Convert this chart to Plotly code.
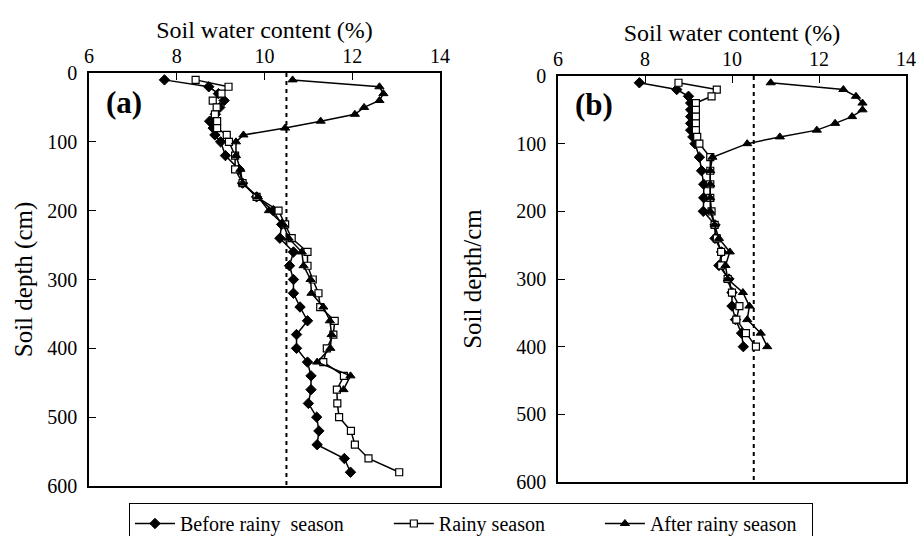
import plotly.graph_objects as go

# ---------------- data ----------------
depth_a = [10, 20, 30, 40, 50, 60, 70, 80, 90, 100, 120, 140, 160, 180, 200, 220, 240,
           260, 280, 300, 320, 340, 360, 380, 400, 420, 440, 460, 480, 500, 520, 540, 560, 580]
before_a = [7.72, 8.73, 8.95, 9.08, 8.98, 8.88, 8.75, 8.83, 8.87, 9.0, 9.11, 9.42, 9.5, 9.82,
            10.2, 10.39, 10.35, 10.66, 10.57, 10.66, 10.66, 10.81, 10.98, 10.73, 10.73, 10.98,
            11.06, 11.06, 11.0, 11.19, 11.24, 11.2, 11.82, 11.96]
rainy_a = [8.43, 9.18, 9.02, 8.82, 8.91, 8.87, 8.92, 8.92, 9.14, 9.19, 9.33, 9.33, 9.5, 9.82,
           10.32, 10.47, 10.62, 10.98, 10.98, 11.1, 11.23, 11.27, 11.6, 11.57, 11.42, 11.34,
           11.81, 11.65, 11.66, 11.70, 11.97, 12.06, 12.37, 13.07]
depth_a_after = depth_a[:28]
after_a = [10.64, 12.62, 12.71, 12.62, 12.27, 12.06, 11.28, 10.47, 9.52, 9.35, 9.35, 9.45, 9.5,
           9.85, 10.1, 10.43, 10.55, 10.85, 10.89, 11.05, 11.07, 11.34, 11.49, 11.53, 11.5, 11.2,
           11.96, 11.8]

depth_b = [10, 20, 30, 40, 50, 60, 70, 80, 90, 100, 120, 140, 160, 180, 200, 220, 240, 260,
           280, 300, 320, 340, 360, 380, 400]
before_b = [7.87, 8.73, 9.0, 9.05, 9.05, 9.05, 9.05, 9.05, 9.1, 9.15, 9.25, 9.3, 9.35, 9.35,
            9.34, 9.61, 9.61, 9.76, 9.70, 9.93, 10.0, 10.0, 10.08, 10.22, 10.26]
rainy_b = [8.77, 9.65, 9.53, 9.17, 9.17, 9.17, 9.17, 9.17, 9.2, 9.25, 9.5, 9.5, 9.5, 9.5,
           9.53, 9.6, 9.65, 9.75, 9.75, 9.9, 10.0, 10.17, 10.1, 10.32, 10.55]
after_b = [10.89, 12.56, 12.85, 13.0, 13.0, 12.76, 12.37, 11.95, 11.1, 10.35, 9.55, 9.5, 9.5,
           9.5, 9.5, 9.6, 9.7, 9.95, 9.85, 9.9, 10.25, 10.4, 10.35, 10.66, 10.81]

threshold = 10.5
depth_range = [0, 600]
x_ticks = [6, 8, 10, 12, 14]
y_ticks = [0, 100, 200, 300, 400, 500, 600]

NB = "\u00a0"
series_names = ["Before rainy" + NB + " season" + NB * 8,
                "Rainy season" + NB * 10,
                "After rainy season" + NB * 2]

# ---------------- figure ----------------
FONT = "Liberation Serif"
W, H = 917, 536

fig = go.Figure()

line_style = dict(color="black", width=1.5)
styles = [
    dict(symbol="diamond", size=8, color="black", line=dict(color="black", width=1)),
    dict(symbol="square", size=7, color="white", line=dict(color="black", width=1.2)),
    dict(symbol="triangle-up", size=8, color="black", line=dict(color="black", width=1)),
]

panels = [
    ("x", "y", [(depth_a, before_a), (depth_a, rainy_a), (depth_a_after, after_a)]),
    ("x2", "y2", [(depth_b, before_b), (depth_b, rainy_b), (depth_b, after_b)]),
]

for pi, (xa, ya, data) in enumerate(panels):
    fig.add_trace(go.Scatter(x=[threshold, threshold], y=depth_range, mode="lines",
                             line=dict(color="black", width=2, dash="4px,4px"),
                             xaxis=xa, yaxis=ya, showlegend=False, hoverinfo="skip"))
    for si, (d, v) in enumerate(data):
        fig.add_trace(go.Scatter(x=v, y=d, mode="lines+markers", name=series_names[si],
                                 line=line_style, marker=styles[si],
                                 xaxis=xa, yaxis=ya, showlegend=(pi == 0)))

def xaxis_cfg(domain, anchor):
    return dict(domain=domain, anchor=anchor, side="top", range=[6, 14], tickvals=x_ticks,
                ticks="inside", ticklen=7, tickwidth=1.2, tickcolor="black",
                showline=True, mirror=True, linecolor="black", linewidth=1.5,
                showgrid=False, zeroline=False, ticklabelstandoff=0,
                tickfont=dict(family=FONT, size=20, color="black"),
                title=dict(text="Soil water content (%)", standoff=0,
                           font=dict(family=FONT, size=24, color="black")))

def yaxis_cfg(domain, anchor, title, standoff):
    return dict(domain=domain, anchor=anchor, range=[600, 0], tickvals=y_ticks,
                ticks="inside", ticklen=7, tickwidth=1.2, tickcolor="black",
                showline=True, mirror=True, linecolor="black", linewidth=1.5,
                showgrid=False, zeroline=False, ticklabelstandoff=6,
                tickfont=dict(family=FONT, size=20, color="black"),
                title=dict(text=title, standoff=standoff,
                           font=dict(family=FONT, size=25, color="black")))

fig.update_layout(
    width=W, height=H,
    margin=dict(l=0, r=0, t=0, b=0, autoexpand=False),
    paper_bgcolor="white", plot_bgcolor="white",
    font=dict(family=FONT, color="black"),
    xaxis=xaxis_cfg([89 / W, 440 / W], "y"),
    yaxis=yaxis_cfg([1 - 486 / H, 1 - 73 / H], "x", "Soil depth (cm)", 8),
    xaxis2=xaxis_cfg([558 / W, 906 / W], "y2"),
    yaxis2=yaxis_cfg([1 - 482 / H, 1 - 76 / H], "x2", "Soil depth/cm", 28),
    legend=dict(orientation="h", x=129 / W, y=1 - 503 / H, xanchor="left", yanchor="top",
                bordercolor="black", borderwidth=1, bgcolor="white", itemwidth=40,
                font=dict(family=FONT, size=20, color="black")),
    annotations=[
        dict(text="<b>(a)</b>", x=124 / W, y=1 - 102 / H, xref="paper", yref="paper",
             xanchor="center", yanchor="middle",
             showarrow=False, font=dict(family=FONT, size=31, color="black")),
        dict(text="<b>(b)</b>", x=594 / W, y=1 - 104 / H, xref="paper", yref="paper",
             xanchor="center", yanchor="middle",
             showarrow=False, font=dict(family=FONT, size=31, color="black")),
    ],
)

fig.write_html("out.html")
